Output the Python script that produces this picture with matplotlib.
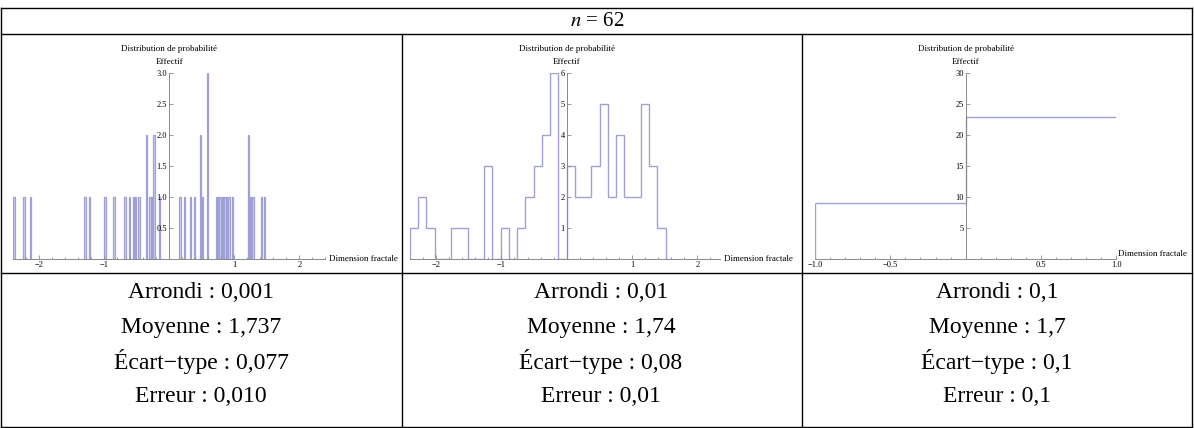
"""Three histograms of the fractal dimension (n = 62) at three rounding levels, in a table layout."""
import matplotlib
matplotlib.use("Agg")
import matplotlib.pyplot as plt
from matplotlib.lines import Line2D
from matplotlib.ticker import MultipleLocator

plt.rcParams["font.family"] = ["Liberation Serif", "DejaVu Serif"]
plt.rcParams["mathtext.fontset"] = "stix"

W, H = 1194, 428
HEADER = "$n$ = 62"

# panel 1 : rounding 0.001 -> isolated spikes
p1_pos = [-2.39, -2.235, -2.14, -1.297, -1.23, -0.99, -0.85, -0.68, -0.615, -0.55,
          -0.52, -0.465, -0.355, -0.295, -0.27, -0.235, -0.155,
          0.165, 0.23, 0.33, 0.385, 0.48, 0.51, 0.585, 0.73, 0.755, 0.78, 0.82,
          0.855, 0.88, 0.92, 0.97, 1.215, 1.25, 1.29, 1.42, 1.47]
p1_cnt = [1, 1, 1, 1, 1, 1, 1, 1, 1, 1,
          1, 1, 2, 1, 1, 2, 1,
          1, 1, 1, 1, 2, 1, 3, 1, 1, 1, 1,
          1, 1, 1, 1, 2, 1, 1, 1, 1]
p1_xticks = [-2, -1, 1, 2]
p1_yticks = [0.5, 1.0, 1.5, 2.0, 2.5, 3.0]

# panel 2 : rounding 0.01
p2_start = -2.4
p2_width = 2.4 / 19
p2_cnt = [1, 2, 1, 0, 0, 1, 1, 0, 0, 3, 0, 1, 0, 1, 2, 3, 4, 6, 0,
          3, 2, 2, 3, 5, 2, 4, 2, 2, 5, 3, 1]
p2_xticks = [-2, -1, 1, 2]
p2_yticks = [1, 2, 3, 4, 5, 6]

# panel 3 : rounding 0.1
p3_edges = [-1.0, 0.0, 1.0]
p3_cnt = [9, 23]
p3_xticks = [-1.0, -0.5, 0.5, 1.0]
p3_yticks = [5, 10, 15, 20, 25, 30]

stats = [
    ["Arrondi : 0,001", "Moyenne : 1,737", "Écart\u2212type : 0,077", "Erreur : 0,010"],
    ["Arrondi : 0,01", "Moyenne : 1,74", "Écart\u2212type : 0,08", "Erreur : 0,01"],
    ["Arrondi : 0,1", "Moyenne : 1,7", "Écart\u2212type : 0,1", "Erreur : 0,1"],
]

EDGE = "#a0a0d8"
FACE = "#d2d2f0"
AXC = "#8a8a8a"

fig = plt.figure(figsize=(W / 100, H / 100), dpi=100)


def fx(px):
    return px / W


def fy(py):
    return 1 - py / H


def hline(y, x0=1, x1=1192):
    fig.add_artist(Line2D([fx(x0), fx(x1)], [fy(y), fy(y)], color="black", lw=1.0))


def vline(x, y0, y1):
    fig.add_artist(Line2D([fx(x), fx(x)], [fy(y0), fy(y1)], color="black", lw=1.0))


# table frame
for y in [8, 34, 273, 427]:
    hline(y)
vline(1, 8, 427)
vline(1192, 8, 427)
vline(401.5, 34, 427)
vline(801.5, 34, 427)
fig.text(fx(597), fy(21), HEADER, ha="center", va="center", fontsize=15)


def make_axes(x0, x1, xlim, ylim, y_top=73.3, y_bot=259):
    ax = fig.add_axes([fx(x0), fy(y_bot), fx(x1) - fx(x0), fy(y_top) - fy(y_bot)])
    ax.set_xlim(xlim)
    ax.set_ylim(ylim)
    ax.patch.set_alpha(0)
    for s in ["top", "right"]:
        ax.spines[s].set_visible(False)
    for s in ["left", "bottom"]:
        ax.spines[s].set_position(("data", 0))
        ax.spines[s].set_color(AXC)
        ax.spines[s].set_linewidth(0.7)
    ax.tick_params(which="both", direction="in", color=AXC, width=0.6,
                   labelsize=6, pad=1.5)
    ax.tick_params(which="major", length=3)
    ax.tick_params(which="minor", length=1.5)
    ax.annotate("Effectif", xy=(0, ylim[1]), xycoords="data", xytext=(0, 11),
                textcoords="offset pixels", ha="center", va="center", fontsize=6.5)
    ax.annotate("Distribution de probabilité", xy=(0, ylim[1]), xycoords="data",
                xytext=(0, 24), textcoords="offset pixels", ha="center", va="center",
                fontsize=6.5)
    return ax


# panel 1
ax1 = make_axes(13.3, 325.3, (-2.4, 2.4), (0, 3.0))
ax1.bar(p1_pos, p1_cnt, width=0.02, color=FACE, edgecolor=EDGE, linewidth=0.9)
ax1.set_xticks(p1_xticks)
ax1.set_yticks(p1_yticks)
ax1.xaxis.set_minor_locator(MultipleLocator(0.2))
ax1.annotate("Dimension fractale", xy=(2.4, 0), xycoords="data", xytext=(4, 0),
             textcoords="offset pixels", ha="left", va="center", fontsize=6.5)

# panel 2
p2_edges = [p2_start + i * p2_width for i in range(len(p2_cnt) + 1)]
ax2 = make_axes(410, 720.2, (-2.4, 2.35), (0, 6))
ax2.stairs(p2_cnt, p2_edges, baseline=0, fill=False, color=EDGE, linewidth=1.0)
ax2.set_xticks(p2_xticks)
ax2.set_yticks(p2_yticks)
ax2.xaxis.set_minor_locator(MultipleLocator(0.2))
ax2.annotate("Dimension fractale", xy=(2.35, 0), xycoords="data", xytext=(4, 0),
             textcoords="offset pixels", ha="left", va="center", fontsize=6.5)

# panel 3
ax3 = make_axes(815, 1116.4, (-1.0, 1.0), (0, 30))
ax3.stairs(p3_cnt, p3_edges, baseline=None, color=EDGE, linewidth=1.0)
ax3.vlines(p3_edges[0], 0, p3_cnt[0], color=EDGE, linewidth=1.0)
ax3.set_xticks(p3_xticks)
ax3.set_yticks(p3_yticks)
ax3.xaxis.set_minor_locator(MultipleLocator(0.1))
ax3.annotate("Dimension fractale", xy=(1.0, 0), xycoords="data", xytext=(2, 5),
             textcoords="offset pixels", ha="left", va="center", fontsize=6.5)

# stats rows
col_centers = [201, 601, 997]
row_y = [292, 327, 362, 397]
for cx, lines in zip(col_centers, stats):
    for ry, txt in zip(row_y, lines):
        fig.text(fx(cx), fy(ry), txt, ha="center", va="center", fontsize=17)

fig.savefig("out.png", dpi=100)
print("saved out.png")
